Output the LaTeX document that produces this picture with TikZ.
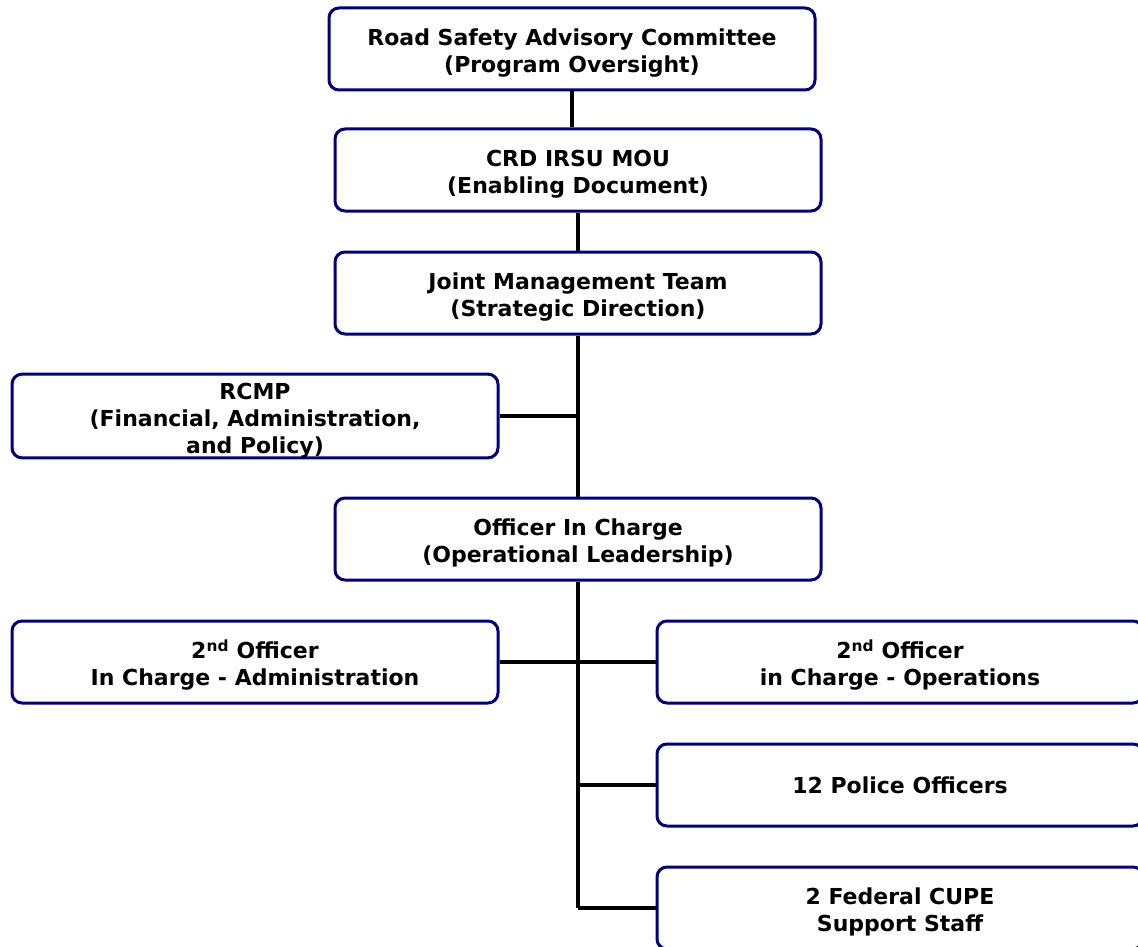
\documentclass[tikz,border=0pt]{standalone}
\usepackage{fontspec}
\setmainfont{DejaVu Sans}
\usetikzlibrary{positioning}
\usetikzlibrary{calc}
\newcommand{\tall}{\rule{0pt}{25pt}}

\begin{document}
\begin{tikzpicture}[x=1pt, y=-1pt,
      unit/.style={draw=blue!50!black, line width=3, rounded corners=10,
        minimum width=486, minimum height=82, inner ysep=0, align=center,
        font=\fontsize{22}{27}\selectfont\bfseries},
      wire/.style={draw=black, line width=4.5}
    ]
    \clip (0, 0) rectangle (1138, 947);
    % boxes down the middle
    \node [unit] (0) at (572, 49) {\tall Road Safety Advisory Committee\\(Program Oversight)};
    \node [unit] (1) at (578, 170) {\tall CRD IRSU MOU\\(Enabling Document)};
    \node [unit] (2) at (578, 293) {\tall Joint Management Team\\ (Strategic Direction)};
    \node [unit] (3) at (255, 416) {\tall RCMP\\(Financial, Administration,\\and Policy)};
    \node [unit] (4) at (578, 539) {\tall Officer In Charge\\(Operational Leadership)};
    % second row
    \node [unit] (5) at (255, 662) {\tall 2\textsuperscript{nd} Officer\\In Charge - Administration};
    \node [unit] (6) at (900, 662) {\tall 2\textsuperscript{nd} Officer\\in Charge - Operations};
    \node [unit] (7) at (900, 785) {12 Police Officers};
    \node [unit] (8) at (900, 908) {\tall 2 Federal CUPE\\ Support Staff};
    \coordinate (e) at (578, 908);

    % connectors
    \draw[wire] (0.south) to (0.south |- 1.north);
    \draw[wire] (1.south) to (2.north);
    \draw[wire] (2.south) to (4.north);
    \draw[wire] (3.east) to (3.east -| 2.south);
    \draw[wire] (4.south) to (e);
    \draw[wire] (5.east) to (6.west);
    \draw[wire] (7.west) to (7.west -| 4.south);
    \draw[wire] (8.west) to (e);

\end{tikzpicture}
\end{document}
